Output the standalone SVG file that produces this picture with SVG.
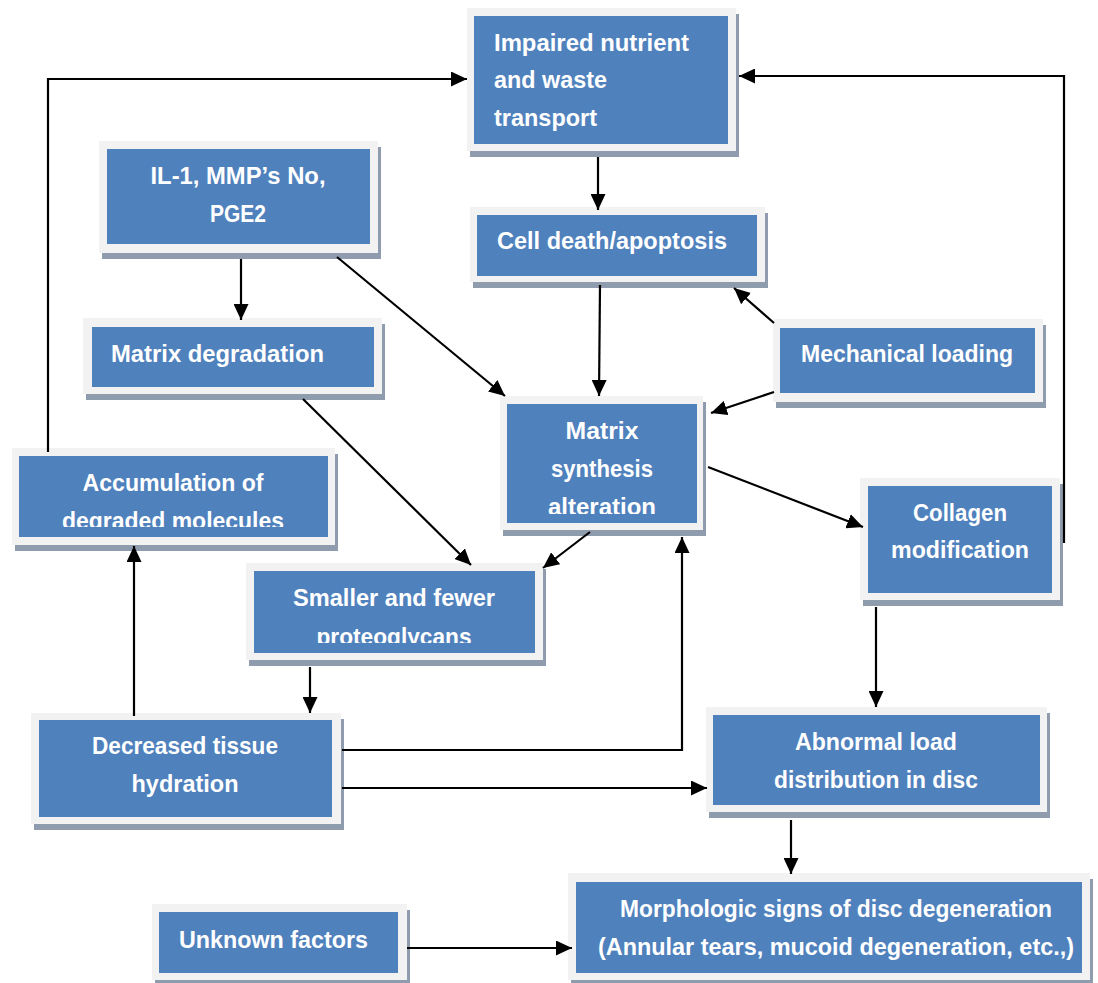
<svg xmlns="http://www.w3.org/2000/svg" width="1098" height="983" viewBox="0 0 1098 983">
<style>
.shadow{fill:#8e9cae}
.outer{fill:#f2f2f2}
.inner{fill:#4f81bd}
.t{font-family:"Liberation Sans",Arial,sans-serif;font-weight:bold;font-size:24px;fill:#ffffff}
.c{text-anchor:middle}
.conn{stroke:#000;stroke-width:2.2;fill:none}
</style>
<defs>
<marker id="ah" markerUnits="userSpaceOnUse" markerWidth="16" markerHeight="15" refX="16" refY="7.5" orient="auto">
<path d="M0,0 L16,7.5 L0,15 z" fill="#000"/>
</marker>
<clipPath id="clipAccum"><rect x="19" y="456" width="309" height="71"/></clipPath>
<clipPath id="clipSmaller"><rect x="254" y="571" width="281" height="72"/></clipPath>
<clipPath id="clipMatsyn"><rect x="507" y="404" width="190" height="110"/></clipPath>
</defs>
<rect width="1098" height="983" fill="#ffffff"/>

<g id="impaired">
<rect class="shadow" x="470" y="14" width="269" height="143"/>
<rect class="outer" x="467" y="8" width="269" height="143"/>
<rect class="inner" x="474" y="16" width="254" height="128"/>
<text class="t" x="494" y="51" textLength="195" lengthAdjust="spacingAndGlyphs">Impaired nutrient</text>
<text class="t" x="494" y="88" textLength="113" lengthAdjust="spacingAndGlyphs">and waste</text>
<text class="t" x="494" y="126" textLength="103" lengthAdjust="spacingAndGlyphs">transport</text>
</g>

<g id="celldeath">
<rect class="shadow" x="473" y="213" width="295" height="75"/>
<rect class="outer" x="470" y="207" width="295" height="75"/>
<rect class="inner" x="477" y="215" width="280" height="61"/>
<text class="t" x="497" y="249" textLength="230" lengthAdjust="spacingAndGlyphs">Cell death/apoptosis</text>
</g>

<g id="il1">
<rect class="shadow" x="102" y="147" width="279" height="112"/>
<rect class="outer" x="99" y="141" width="279" height="112"/>
<rect class="inner" x="107" y="149" width="263" height="95"/>
<text class="t c" x="238" y="184" textLength="175" lengthAdjust="spacingAndGlyphs">IL-1, MMP’s No,</text>
<text class="t c" x="238" y="222" textLength="56" lengthAdjust="spacingAndGlyphs">PGE2</text>
</g>

<g id="matdeg">
<rect class="shadow" x="86" y="324" width="299" height="76"/>
<rect class="outer" x="83" y="318" width="299" height="76"/>
<rect class="inner" x="92" y="327" width="282" height="60"/>
<text class="t" x="111" y="362" textLength="213" lengthAdjust="spacingAndGlyphs">Matrix degradation</text>
</g>

<g id="mech">
<rect class="shadow" x="776" y="325" width="270" height="83"/>
<rect class="outer" x="773" y="319" width="270" height="83"/>
<rect class="inner" x="780" y="328" width="255" height="65"/>
<text class="t c" x="907" y="362" textLength="212" lengthAdjust="spacingAndGlyphs">Mechanical loading</text>
</g>

<g id="matsyn">
<rect class="shadow" x="503" y="402" width="203" height="134"/>
<rect class="outer" x="500" y="396" width="203" height="134"/>
<rect class="inner" x="507" y="404" width="190" height="119"/>
<g clip-path="url(#clipMatsyn)">
<text class="t c" x="602" y="439" textLength="73" lengthAdjust="spacingAndGlyphs">Matrix</text>
<text class="t c" x="602" y="477" textLength="102" lengthAdjust="spacingAndGlyphs">synthesis</text>
<text class="t c" x="602" y="515" textLength="108" lengthAdjust="spacingAndGlyphs">alteration</text>
</g>
</g>

<g id="accum">
<rect class="shadow" x="15" y="454" width="323" height="97"/>
<rect class="outer" x="12" y="448" width="323" height="97"/>
<rect class="inner" x="19" y="456" width="309" height="81"/>
<g clip-path="url(#clipAccum)">
<text class="t c" x="173" y="491" textLength="181" lengthAdjust="spacingAndGlyphs">Accumulation of</text>
<text class="t c" x="173" y="529" textLength="222" lengthAdjust="spacingAndGlyphs">degraded molecules</text>
</g>
</g>

<g id="smaller">
<rect class="shadow" x="249" y="569" width="297" height="97"/>
<rect class="outer" x="246" y="563" width="297" height="97"/>
<rect class="inner" x="254" y="571" width="281" height="82"/>
<g clip-path="url(#clipSmaller)">
<text class="t c" x="394" y="606" textLength="202" lengthAdjust="spacingAndGlyphs">Smaller and fewer</text>
<text class="t c" x="394" y="645" textLength="155" lengthAdjust="spacingAndGlyphs">proteoglycans</text>
</g>
</g>

<g id="decreased">
<rect class="shadow" x="34" y="719" width="310" height="111"/>
<rect class="outer" x="31" y="713" width="310" height="111"/>
<rect class="inner" x="39" y="720" width="293" height="97"/>
<text class="t c" x="185" y="754" textLength="186" lengthAdjust="spacingAndGlyphs">Decreased tissue</text>
<text class="t c" x="185" y="792" textLength="107" lengthAdjust="spacingAndGlyphs">hydration</text>
</g>

<g id="collagen">
<rect class="shadow" x="863" y="484" width="200" height="122"/>
<rect class="outer" x="860" y="478" width="200" height="122"/>
<rect class="inner" x="868" y="486" width="184" height="107"/>
<text class="t c" x="960" y="521" textLength="94" lengthAdjust="spacingAndGlyphs">Collagen</text>
<text class="t c" x="960" y="558" textLength="138" lengthAdjust="spacingAndGlyphs">modification</text>
</g>

<g id="abnormal">
<rect class="shadow" x="709" y="713" width="341" height="105"/>
<rect class="outer" x="706" y="707" width="341" height="105"/>
<rect class="inner" x="713" y="715" width="327" height="90"/>
<text class="t c" x="876" y="750" textLength="162" lengthAdjust="spacingAndGlyphs">Abnormal load</text>
<text class="t c" x="876" y="788" textLength="204" lengthAdjust="spacingAndGlyphs">distribution in disc</text>
</g>

<g id="morph">
<rect class="shadow" x="571" y="879" width="522" height="107"/>
<rect class="outer" x="568" y="873" width="522" height="107"/>
<rect class="inner" x="576" y="882" width="506" height="91"/>
<text class="t c" x="836" y="917" textLength="432" lengthAdjust="spacingAndGlyphs">Morphologic signs of disc degeneration</text>
<text class="t c" x="836" y="955" textLength="476" lengthAdjust="spacingAndGlyphs">(Annular tears, mucoid degeneration, etc.,)</text>
</g>

<g id="unknown">
<rect class="shadow" x="155" y="910" width="255" height="76"/>
<rect class="outer" x="152" y="904" width="255" height="76"/>
<rect class="inner" x="159" y="912" width="239" height="61"/>
<text class="t" x="179" y="948" textLength="189" lengthAdjust="spacingAndGlyphs">Unknown factors</text>
</g>

<g id="connectors">
<line class="conn" x1="241" y1="259" x2="241" y2="320" marker-end="url(#ah)"/>
<line class="conn" x1="598" y1="157" x2="598" y2="210" marker-end="url(#ah)"/>
<line class="conn" x1="600" y1="285" x2="599" y2="396" marker-end="url(#ah)"/>
<line class="conn" x1="337" y1="257" x2="505" y2="396" marker-end="url(#ah)"/>
<line class="conn" x1="774" y1="323" x2="734" y2="288" marker-end="url(#ah)"/>
<line class="conn" x1="774" y1="392" x2="711" y2="413" marker-end="url(#ah)"/>
<line class="conn" x1="303" y1="399" x2="471" y2="565" marker-end="url(#ah)"/>
<line class="conn" x1="708" y1="467" x2="863" y2="527" marker-end="url(#ah)"/>
<line class="conn" x1="590" y1="532" x2="543" y2="568" marker-end="url(#ah)"/>
<line class="conn" x1="310" y1="667" x2="310" y2="713" marker-end="url(#ah)"/>
<line class="conn" x1="134" y1="716" x2="134" y2="546" marker-end="url(#ah)"/>
<polyline class="conn" points="48,452 48,79 467,79" marker-end="url(#ah)"/>
<polyline class="conn" points="1064,543 1064,76 739,76" marker-end="url(#ah)"/>
<polyline class="conn" points="342,750 682,750 682,537" marker-end="url(#ah)"/>
<line class="conn" x1="342" y1="788" x2="707" y2="788" marker-end="url(#ah)"/>
<line class="conn" x1="876" y1="607" x2="876" y2="707" marker-end="url(#ah)"/>
<line class="conn" x1="791" y1="820" x2="791" y2="874" marker-end="url(#ah)"/>
<line class="conn" x1="407" y1="948" x2="572" y2="948" marker-end="url(#ah)"/>
</g>
</svg>
